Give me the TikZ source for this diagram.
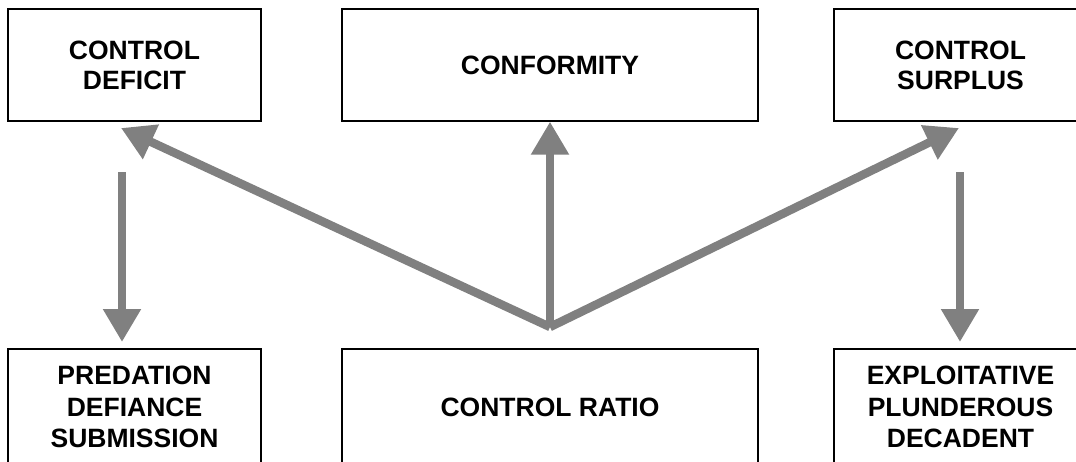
\documentclass[tikz,border=0pt]{standalone}
\usepackage{fontspec}
\setmainfont{Liberation Sans}
\usetikzlibrary{arrows.meta}
\definecolor{arrowgray}{HTML}{808080}
\begin{document}
\begin{tikzpicture}[x=1pt,y=-1pt,
  box/.style={draw=black,line width=1.3pt,minimum width=253pt,minimum height=112pt,inner sep=0pt,align=center,font=\fontsize{26.5}{30}\selectfont\bfseries},
  lowbox/.style={box,minimum height=116pt,font=\fontsize{26.5}{31.5}\selectfont\bfseries},
  garrow/.style={draw=arrowgray,line width=8.5pt,-{Triangle[width=36pt,length=33pt]}}]
\useasboundingbox (0,0) rectangle (1076,461);
\clip (0,0) rectangle (1076,461);
\node[box] (deficit) at (134.5,65) {CONTROL\\DEFICIT};
\node[box,minimum width=416pt] (conformity) at (550,65) {CONFORMITY};
\node[box] (surplus) at (960.5,65) {CONTROL\\SURPLUS};
\node[lowbox] (predation) at (134.5,407) {PREDATION\\DEFIANCE\\SUBMISSION};
\node[lowbox,minimum width=416pt] (ratio) at (550,407) {CONTROL RATIO};
\node[lowbox] (exploit) at (960.5,407) {EXPLOITATIVE\\PLUNDEROUS\\DECADENT};
\coordinate (j) at (550,327);
\coordinate (dtip) at (121,128);
\coordinate (stip) at (959,128);
\coordinate (ls) at (122,172);
\coordinate (lt) at (122,342);
\coordinate (rs) at (960,172);
\coordinate (rt) at (960,342);
\draw[garrow] (j) -- (dtip);
\draw[garrow] (j) -- (stip);
\draw[garrow] (j) -- (conformity.south);
\draw[garrow] (ls) -- (lt);
\draw[garrow] (rs) -- (rt);
\end{tikzpicture}
\end{document}
